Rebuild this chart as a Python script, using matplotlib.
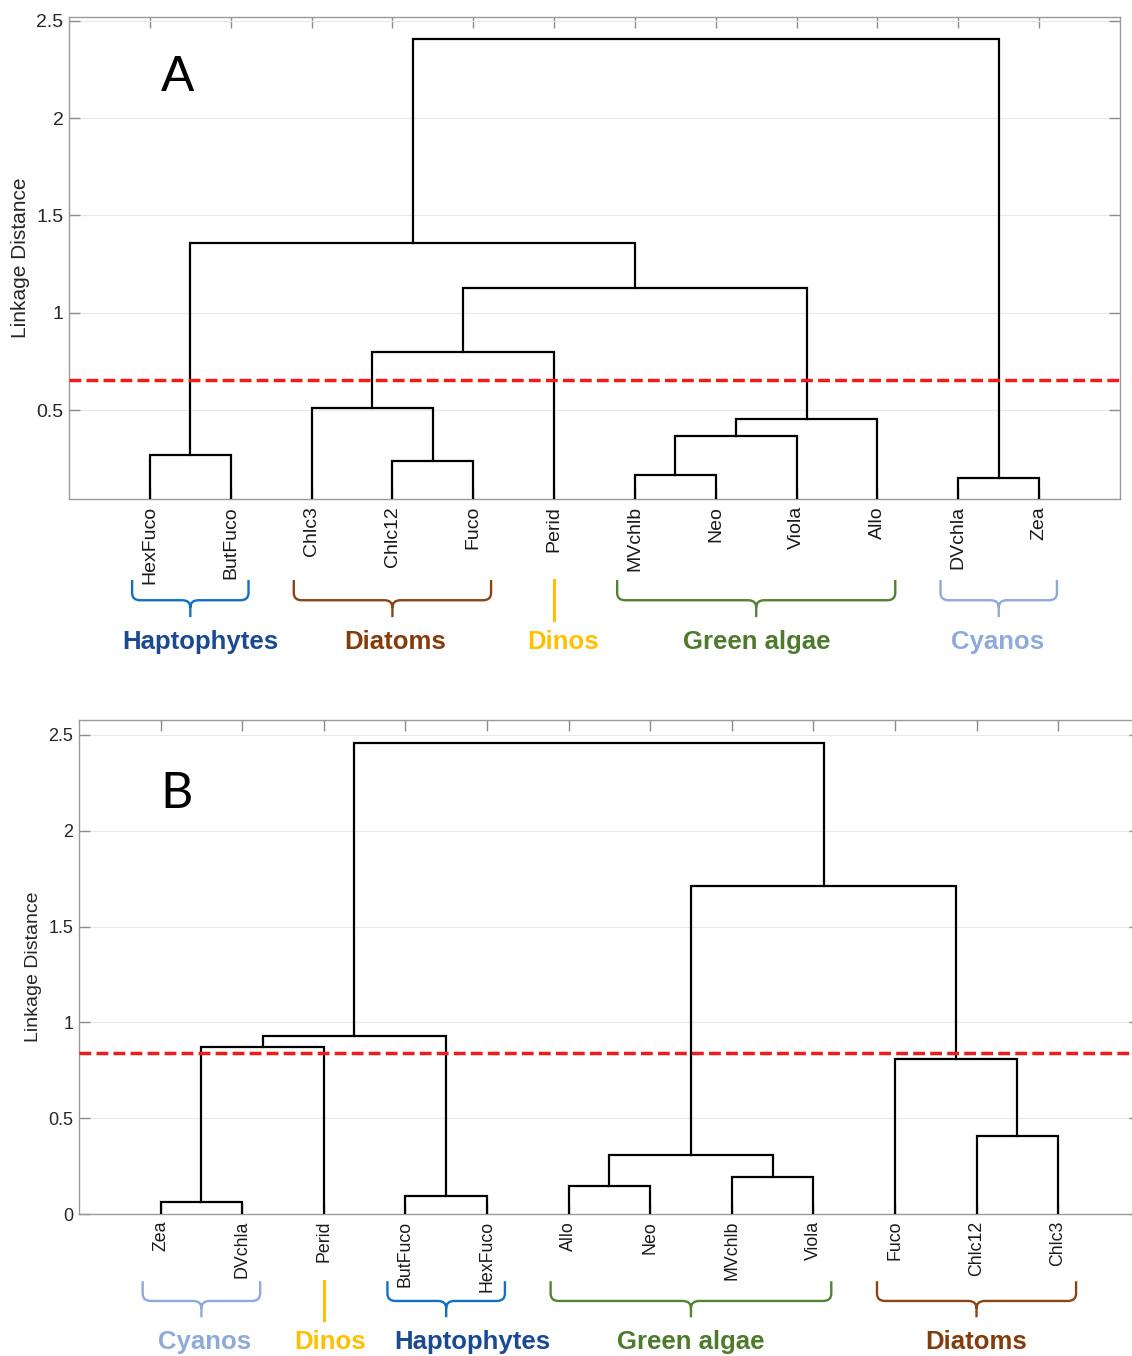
import numpy as np
import matplotlib.pyplot as plt
from matplotlib.path import Path
from matplotlib.patches import PathPatch
from matplotlib.transforms import blended_transform_factory

plt.rcParams['font.family'] = ['Liberation Sans', 'DejaVu Sans']

# panel A
leaves_a = ['HexFuco', 'ButFuco', 'Chlc3', 'Chlc12', 'Fuco', 'Perid',
            'MVchlb', 'Neo', 'Viola', 'Allo', 'DVchla', 'Zea']
# merges: (child1, child2, height); leaves are 0..11, clusters 12..
merges_a = [(3, 4, 0.236), (10, 11, 0.149), (6, 7, 0.164), (0, 1, 0.267),
            (14, 8, 0.365), (16, 9, 0.452), (2, 12, 0.509), (18, 5, 0.80),
            (19, 17, 1.125), (15, 20, 1.357), (21, 13, 2.405)]
cut_a = 0.653

# panel B
leaves_b = ['Zea', 'DVchla', 'Perid', 'ButFuco', 'HexFuco', 'Allo',
            'Neo', 'MVchlb', 'Viola', 'Fuco', 'Chlc12', 'Chlc3']
merges_b = [(0, 1, 0.0625), (3, 4, 0.094), (5, 6, 0.146), (7, 8, 0.193),
            (14, 15, 0.31), (10, 11, 0.406), (9, 17, 0.807), (12, 2, 0.87),
            (19, 13, 0.93), (16, 18, 1.71), (20, 21, 2.458)]
cut_b = 0.838

# groups: (name, first leaf, last leaf, brace colour, text colour, label x)
groups_a = [('Haptophytes', 1, 2, '#1170c4', '#1b4a93', 1.62),
            ('Diatoms', 3, 5, '#8a4416', '#843c0c', 4.03),
            ('Dinos', 6, 6, '#ffc000', '#ffc000', 6.11),
            ('Green algae', 7, 10, '#548235', '#4e7a2e', 8.51),
            ('Cyanos', 11, 12, '#8eaadb', '#8eaadb', 11.49)]
groups_b = [('Cyanos', 1, 2, '#8eaadb', '#8eaadb', 1.54),
            ('Dinos', 3, 3, '#ffc000', '#ffc000', 3.08),
            ('Haptophytes', 4, 5, '#1170c4', '#1b4a93', 4.82),
            ('Green algae', 6, 9, '#548235', '#4e7a2e', 7.5),
            ('Diatoms', 10, 12, '#8a4416', '#843c0c', 11.0)]


def dendro(ax, merges, n):
    xs = list(np.arange(1, n + 1, dtype=float))
    hs = [0.0] * n
    for a, b, h in merges:
        ax.plot([xs[a], xs[a], xs[b], xs[b]], [hs[a], h, h, hs[b]],
                color='black', lw=1.6, solid_joinstyle='miter', zorder=3)
        xs.append((xs[a] + xs[b]) / 2)
        hs.append(h)


def brace(ax, x0, x1, yt, ym, yb, color):
    tr = blended_transform_factory(ax.transData, ax.transAxes)
    if x0 == x1:
        ax.plot([x0, x0], [yt, yb - 0.005], color=color, lw=2.2,
                transform=tr, clip_on=False)
        return
    xm = (x0 + x1) / 2
    rx = 0.1
    dy = 0.015
    verts = [(x0, yt), (x0, ym + dy), (x0, ym), (x0 + rx, ym),
             (xm - rx, ym), (xm, ym), (xm, ym - dy), (xm, yb),
             (xm, ym - dy), (xm, ym), (xm + rx, ym),
             (x1 - rx, ym), (x1, ym), (x1, ym + dy), (x1, yt)]
    codes = [Path.MOVETO, Path.LINETO, Path.CURVE3, Path.CURVE3,
             Path.LINETO, Path.CURVE3, Path.CURVE3, Path.LINETO,
             Path.MOVETO, Path.CURVE3, Path.CURVE3,
             Path.LINETO, Path.CURVE3, Path.CURVE3, Path.LINETO]
    ax.add_patch(PathPatch(Path(verts, codes), fill=False, edgecolor=color,
                           lw=1.7, transform=tr, clip_on=False))


def panel(ax, leaves, merges, cut, groups, ylim, ticks, letter, letter_font,
          leaf_fs, tick_fs, lab_fs, lab_x, ys):
    dendro(ax, merges, len(leaves))
    ax.axhline(cut, color='#ee1c1c', lw=2.5, linestyle=(0, (3.4, 1.5)),
               zorder=4)
    ax.set_xlim(0, 13)
    ax.set_ylim(*ylim)
    ax.set_yticks(ticks)
    ax.set_yticklabels([f'{t:g}' for t in ticks], fontsize=tick_fs,
                       color='#262626')
    ax.set_xticks(np.arange(1, len(leaves) + 1))
    ax.set_xticklabels(leaves, rotation=90, fontsize=leaf_fs, color='#1a1a1a',
                       va='top')
    ax.tick_params(direction='in', top=True, right=True, length=8,
                   color='#8c8c8c', width=1)
    ax.tick_params(axis='x', pad=5)
    ax.tick_params(axis='y', pad=4)
    ax.grid(axis='y', color='#e8e8e8', lw=0.8)
    ax.set_axisbelow(True)
    for s in ax.spines.values():
        s.set_color('#9a9a9a')
        s.set_linewidth(1)
    ax.set_ylabel('Linkage Distance', fontsize=lab_fs, color='#262626')
    ax.yaxis.set_label_coords(lab_x, 0.5)
    ax.text(letter[1], letter[2], letter[0], fontsize=36, ha='center',
            va='center', family=letter_font)
    yt, ym, yb, yl = ys
    tr = blended_transform_factory(ax.transData, ax.transAxes)
    for name, first, last, bc, tc, lx in groups:
        if first == last:
            brace(ax, first, last, yt, ym, yb, bc)
        else:
            brace(ax, first - 0.22, last + 0.22, yt, ym, yb, bc)
        ax.text(lx, yl, name, transform=tr, ha='center', va='center',
                fontsize=18.5, fontweight='bold', color=tc)


fig = plt.figure(figsize=(11.32, 13.56), dpi=100)
ax_a = fig.add_axes([0.061, 0.632, 0.9284, 0.3555])
ax_b = fig.add_axes([0.0698, 0.1047, 0.937, 0.3643])

panel(ax_a, leaves_a, merges_a, cut_a, groups_a, (0.043, 2.52),
      [0.5, 1, 1.5, 2, 2.5], ('A', 1.34, 2.207), ['Liberation Sans'],
      14, 14, 15, -0.037, (-0.168, -0.21, -0.245, -0.296))
panel(ax_b, leaves_b, merges_b, cut_b, groups_b, (0, 2.578),
      [0, 0.5, 1, 1.5, 2, 2.5], ('B', 1.2, 2.19), ['Lato', 'DejaVu Sans'],
      12.8, 13, 14, -0.035, (-0.136, -0.176, -0.209, -0.259))

fig.savefig('out.png', dpi=100)
